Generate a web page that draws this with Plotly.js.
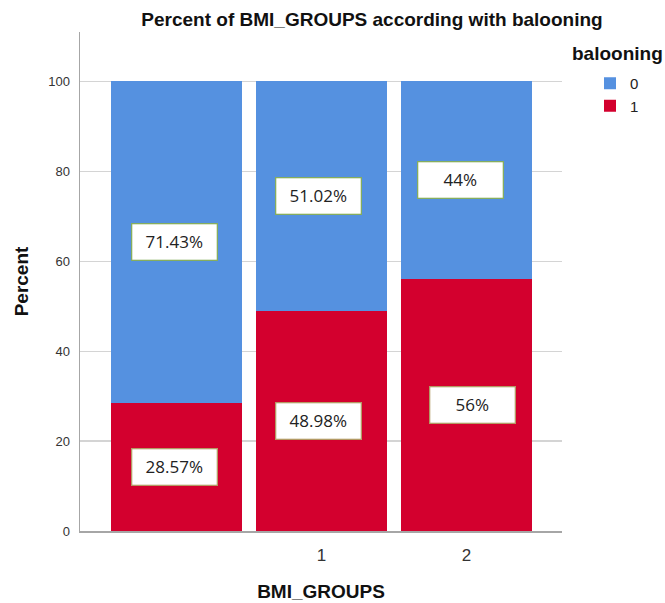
<!DOCTYPE html>
<html>
<head>
<meta charset="utf-8">
<script src="https://cdn.plot.ly/plotly-3.0.1.min.js"></script>
<style>html,body{margin:0;padding:0;background:#fff;}#chart{width:665px;height:603px;}</style>
</head>
<body>
<div id="chart"></div>
<script>
// Data
const categories = ['', '1', '2'];
const balooning0 = [71.43, 51.02, 44];
const balooning1 = [28.57, 48.98, 56];
const seriesNames = ['0', '1'];
const yTicks = [0, 20, 40, 60, 80, 100];

// label nudges (px)
const labelShift0 = [-2, -3, -6];
const labelShift1 = [-2, -3, 6];

const xIdx = categories.map((c, i) => i);

const traces = [
  {type: 'bar', name: seriesNames[1], x: xIdx, y: balooning1, marker: {color: '#d3002e'}, width: 0.903, hoverinfo: 'none'},
  {type: 'bar', name: seriesNames[0], x: xIdx, y: balooning0, marker: {color: '#5591e0'}, width: 0.903, hoverinfo: 'none'}
];

function fmt(v) { return (Math.round(v * 100) / 100).toString() + '%'; }

const annotations = [];
xIdx.forEach((x, i) => {
  const b = balooning1[i], t = balooning0[i];
  [[b / 2, b, labelShift1[i], '#b39a64'], [b + t / 2, t, labelShift0[i], '#86ad5e']].forEach(([yy, v, xs, bc]) => {
    annotations.push({
      x: x, y: yy, xref: 'x', yref: 'y', text: fmt(v), showarrow: false,
      xshift: xs,
      font: {family: 'Open Sans, Liberation Sans, sans-serif', size: 17, color: '#222'},
      bgcolor: '#ffffff', bordercolor: bc, borderwidth: 1.3, borderpad: 2,
      width: 80, height: 31
    });
  });
});

// legend title
annotations.push({
  xref: 'paper', yref: 'paper', x: (570 - 80) / 482, y: 1 - (53 - 32) / 499,
  xanchor: 'left', yanchor: 'middle', showarrow: false,
  text: '<b>balooning</b>', font: {size: 19, color: '#111'}
});

const layout = {
  width: 665, height: 603,
  margin: {l: 80, r: 103, t: 32, b: 72},
  paper_bgcolor: '#ffffff', plot_bgcolor: '#ffffff',
  barmode: 'stack',
  font: {family: 'Liberation Sans, Arial, sans-serif', color: '#222'},
  title: {text: '<b>Percent of BMI_GROUPS according with balooning</b>', x: 372 / 665, xref: 'container', y: 1 - 19 / 603, yref: 'container', yanchor: 'middle', xanchor: 'center',
    font: {size: 19, color: '#111'}},
  xaxis: {
    range: [-0.666, 2.659], tickmode: 'array', tickvals: xIdx, ticktext: categories,
    showgrid: false, zeroline: false, showline: true, linecolor: '#a6a6a6', linewidth: 1.5,
    ticks: '', tickfont: {size: 17, color: '#333'}, ticklabelstandoff: 8,
    title: {text: '<b>BMI_GROUPS</b>', font: {size: 19, color: '#111'}, standoff: 21},
    fixedrange: true
  },
  yaxis: {
    range: [0, 111], tickmode: 'array', tickvals: yTicks,
    showgrid: true, gridcolor: '#d4d4d4', gridwidth: 1.2, zeroline: false,
    showline: true, linecolor: '#a6a6a6', linewidth: 1.5, ticks: '',
    tickfont: {size: 13, color: '#333'}, ticklabelstandoff: 6,
    title: {text: '<b>Percent</b>', font: {size: 19, color: '#111'}, standoff: 14},
    fixedrange: true
  },
  legend: {
    x: (590 - 80) / 482, xanchor: 'left', y: 1 - (67 - 32) / 499, yanchor: 'top', traceorder: 'reversed',
    font: {size: 15, color: '#222'}, itemwidth: 30, tracegroupgap: 0,
    bgcolor: 'rgba(0,0,0,0)'
  },
  annotations: annotations,
  showlegend: true
};

Plotly.newPlot('chart', traces, layout, {displayModeBar: false, staticPlot: true});
</script>
</body>
</html>
